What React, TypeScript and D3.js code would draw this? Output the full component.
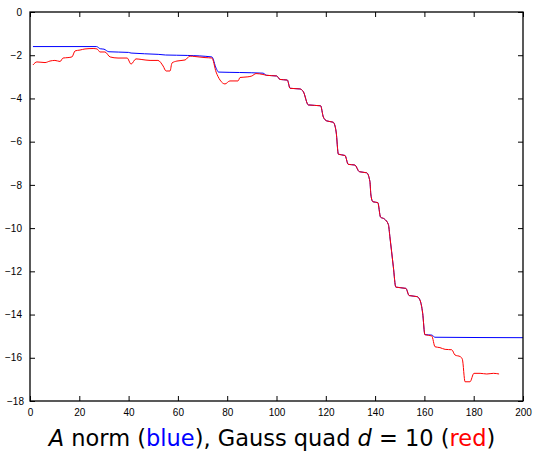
import { useEffect, useRef } from 'react';
import * as d3 from 'd3';

// values
const xTicks = [0, 20, 40, 60, 80, 100, 120, 140, 160, 180, 200];
const yTicks = [0, -2, -4, -6, -8, -10, -12, -14, -16, -18];

// stretch both curves share (x, value)
const commonX = [96, 100.1, 101.4, 104.4, 105.5, 109.5, 110.9, 112.9, 117.9, 119, 120.4, 123, 124.2, 125.1, 127.8, 129.1, 131.8, 133.6, 136.6, 137.9, 138.3, 139.1, 141.1, 142.2, 143.8, 145.4, 146, 147.4, 148.4, 152.5, 153.8, 157, 158.2, 159.3, 160.2];
const commonY = [-2.93, -2.96, -3.12, -3.15, -3.53, -3.56, -3.69, -4.3, -4.34, -4.86, -5.04, -5.1, -5.55, -6.58, -6.64, -7.05, -7.08, -7.39, -7.44, -7.85, -8.47, -8.78, -8.82, -9.49, -9.58, -9.84, -10.4, -11.79, -12.73, -12.79, -13.12, -13.17, -13.33, -13.94, -14.93];

const blueHeadX = [1.2, 27, 28.5, 30, 32, 40, 41, 52, 55, 64, 73.8, 75.5, 76.5, 85, 94.5];
const blueHeadY = [-1.6, -1.6, -1.7, -1.72, -1.84, -1.87, -1.9, -1.96, -1.99, -2.01, -2.08, -2.6, -2.78, -2.8, -2.83];
const blueTailX = [163, 164.3, 200];
const blueTailY = [-14.95, -15.05, -15.07];

const redHeadX = [1.2, 2.8, 6.1, 8.1, 10.1, 12.2, 13.4, 15.4, 17, 18.3, 20.3, 22.3, 25.6, 27.2, 28.4, 30.4, 32.5, 35.7, 39.4, 41, 43, 45.4, 48.7, 51.9, 54, 55.2, 56.8, 57.6, 59.6, 62.9, 64.9, 66.9, 71, 73.8, 75.5, 77.1, 79.1, 81.1, 84.4, 85.2, 88.4, 90, 91.7, 94.5];
const redHeadY = [-2.45, -2.31, -2.34, -2.27, -2.24, -2.29, -2.13, -2.11, -2.08, -1.8, -1.76, -1.71, -1.69, -1.71, -1.85, -1.85, -2.08, -2.13, -2.13, -2.41, -2.17, -2.2, -2.24, -2.24, -2.5, -2.73, -2.73, -2.36, -2.27, -2.22, -2.04, -2.06, -2.11, -2.13, -2.78, -3.15, -3.33, -3.19, -3.19, -3.03, -3.0, -2.96, -2.85, -2.89];
const redTailX = [163, 164.3, 166.3, 168.4, 171.1, 172.4, 174.6, 175.4, 176.5, 178.5, 180.1, 182.6, 185.3, 188, 190.3];
const redTailY = [-14.99, -15.49, -15.53, -15.61, -15.63, -15.87, -15.95, -16.07, -17.11, -17.11, -16.72, -16.72, -16.75, -16.72, -16.75];

const W = 535;
const H = 461;
const margin = { top: 12, right: 12, bottom: 60, left: 30 };

function zip(xs: number[], ys: number[]): [number, number][] {
  return xs.map((x, i) => [x, ys[i]]);
}

export default function App() {
  const svgRef = useRef<SVGSVGElement>(null);

  useEffect(() => {
    if (!svgRef.current) return;
    const svg = d3.select(svgRef.current);
    svg.selectAll('*').remove();

    const innerW = W - margin.left - margin.right;
    const innerH = H - margin.top - margin.bottom;
    const x = d3.scaleLinear().domain([0, 200]).range([margin.left, margin.left + innerW]);
    const y = d3.scaleLinear().domain([-18, 0]).range([margin.top + innerH, margin.top]);

    const common = zip(commonX, commonY);
    const blue = [...zip(blueHeadX, blueHeadY), ...common, ...zip(blueTailX, blueTailY)];
    const red = [...zip(redHeadX, redHeadY), ...common, ...zip(redTailX, redTailY)];

    const line = d3
      .line<[number, number]>()
      .x((d) => x(d[0]))
      .y((d) => y(d[1]))
      .curve(d3.curveMonotoneX);

    svg.append('rect').attr('width', W).attr('height', H).attr('fill', '#fff');

    svg.append('path').datum(blue).attr('fill', 'none').attr('stroke', '#0000ff').attr('stroke-width', 1).attr('d', line);
    svg.append('path').datum(red).attr('fill', 'none').attr('stroke', '#ff0000').attr('stroke-width', 1).attr('d', line);

    const fmt = (v: number) => (v < 0 ? '\u2212' + Math.abs(v) : String(v));
    const tk = 5;

    // ticks point inward on all four sides, MATLAB style
    const bottom = svg.append('g').attr('transform', `translate(0,${y(-18)})`);
    bottom.call(d3.axisBottom(x).tickValues(xTicks).tickSizeInner(-tk).tickSizeOuter(0).tickPadding(8).tickFormat((v) => fmt(+v)));
    const top = svg.append('g').attr('transform', `translate(0,${y(0)})`);
    top.call(d3.axisTop(x).tickValues(xTicks).tickSizeInner(-tk).tickSizeOuter(0).tickFormat(() => ''));

    const left = svg.append('g').attr('transform', `translate(${x(0)},0)`);
    left.call(d3.axisLeft(y).tickValues(yTicks).tickSizeInner(-tk).tickSizeOuter(0).tickPadding(8).tickFormat((v) => fmt(+v)));
    const right = svg.append('g').attr('transform', `translate(${x(200)},0)`);
    right.call(d3.axisRight(y).tickValues(yTicks).tickSizeInner(-tk).tickSizeOuter(0).tickFormat(() => ''));

    [bottom, top, left, right].forEach((g) => {
      g.select('.domain').remove();
      g.selectAll('line').attr('stroke', '#000').attr('stroke-width', 1);
      g.selectAll('text').attr('font-family', 'Liberation Sans, Arial, sans-serif').attr('font-size', 10).attr('fill', '#000');
    });
    left.selectAll('.tick').filter((d) => d === -18).select('text').attr('dy', '0.3em').attr('x', -6);

    svg
      .append('rect')
      .attr('x', x(0))
      .attr('y', y(0))
      .attr('width', x(200) - x(0))
      .attr('height', y(-18) - y(0))
      .attr('fill', 'none')
      .attr('stroke', '#000')
      .attr('stroke-width', 1.3);

    const title = svg
      .append('text')
      .attr('x', 272)
      .attr('y', 446)
      .attr('text-anchor', 'middle')
      .attr('font-family', 'DejaVu Sans, sans-serif')
      .attr('font-size', 22.5)
      .attr('fill', '#000');
    title.append('tspan').attr('font-style', 'italic').text('A');
    title.append('tspan').text(' norm (');
    title.append('tspan').attr('fill', '#0000ff').text('blue');
    title.append('tspan').text('), Gauss quad ');
    title.append('tspan').attr('font-style', 'italic').text('d');
    title.append('tspan').text(' = 10 (');
    title.append('tspan').attr('fill', '#ff0000').text('red');
    title.append('tspan').text(')');
  }, []);

  return <svg ref={svgRef} width={W} height={H} style={{ position: 'absolute', left: 0, top: 0 }} />;
}
